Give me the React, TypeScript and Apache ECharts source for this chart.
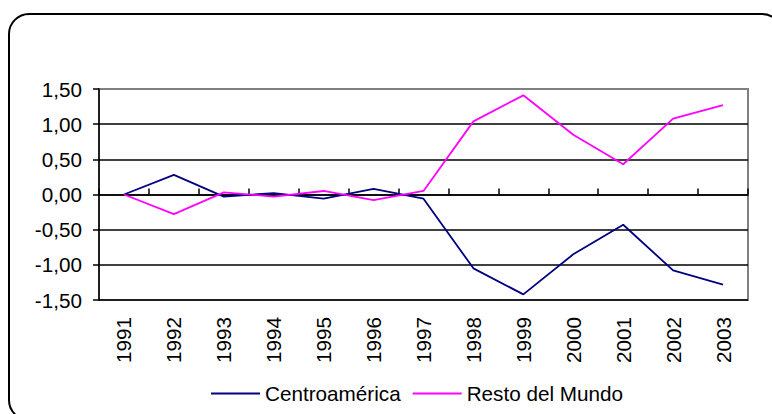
import React, { useEffect, useRef } from "react";
import * as echarts from "echarts";

const years = ["1991", "1992", "1993", "1994", "1995", "1996", "1997", "1998", "1999", "2000", "2001", "2002", "2003"];
const centroamerica = [0, 0.28, -0.03, 0.02, -0.06, 0.08, -0.06, -1.05, -1.42, -0.85, -0.43, -1.08, -1.28];
const restoDelMundo = [0, -0.28, 0.03, -0.03, 0.05, -0.08, 0.05, 1.04, 1.41, 0.85, 0.43, 1.08, 1.27];
const yMin = -1.5;
const yMax = 1.5;
const yStep = 0.5;

const FONT = "'Liberation Sans', Arial, sans-serif";
const FS = 20.7;

export default function App() {
  const ref = useRef<HTMLDivElement>(null);
  useEffect(() => {
    if (!ref.current) return;
    const chart = echarts.init(ref.current, null, { renderer: "svg" });
    chart.setOption({
      animation: false,
      backgroundColor: "#ffffff",
      textStyle: { fontFamily: FONT },
      graphic: [
        {
          type: "rect",
          shape: { x: 9, y: 14, width: 773, height: 406, r: 20 },
          style: { fill: "none", stroke: "#000000", lineWidth: 2 },
          z: 0,
          silent: true,
        },
      ],
      grid: {
        left: 99,
        top: 89,
        right: 24,
        bottom: 114,
        show: true,
        borderColor: "#808080",
        borderWidth: 2,
        backgroundColor: "#ffffff",
        containLabel: false,
      },
      legend: {
        left: 206,
        top: 378,
        icon: "rect",
        itemWidth: 49,
        itemHeight: 2,
        itemGap: 12,
        textStyle: { fontSize: FS, color: "#000000", fontFamily: FONT },
        data: ["Centroamérica", "Resto del Mundo"],
      },
      xAxis: [
        {
          type: "category",
          data: years,
          boundaryGap: true,
          axisLine: { onZero: true, lineStyle: { color: "#000000", width: 1.5 } },
          axisTick: { show: true, inside: true, length: 6, interval: 0, lineStyle: { color: "#000000", width: 1.5 } },
          axisLabel: { show: false },
          splitLine: { show: false },
        },
        {
          type: "category",
          data: years,
          position: "bottom",
          boundaryGap: true,
          axisLine: { show: false, onZero: false },
          axisTick: { show: false },
          axisLabel: {
            show: true,
            rotate: 90,
            margin: 17,
            interval: 0,
            fontSize: FS,
            color: "#000000",
            fontFamily: FONT,
          },
          splitLine: { show: false },
        },
      ],
      yAxis: {
        type: "value",
        min: yMin,
        max: yMax,
        interval: yStep,
        axisLine: { show: true, lineStyle: { color: "#000000", width: 1.5 } },
        axisTick: { show: true, length: 6, lineStyle: { color: "#000000", width: 1.5 } },
        axisLabel: {
          margin: 17,
          fontSize: FS,
          color: "#000000",
          fontFamily: FONT,
          formatter: (v: number) => v.toFixed(2).replace(".", ","),
        },
        splitLine: { show: true, showMaxLine: false, lineStyle: { color: "#000000", width: 1.5 } },
      },
      series: [
        {
          name: "Centroamérica",
          type: "line",
          data: centroamerica,
          xAxisIndex: 0,
          symbol: "none",
          lineStyle: { color: "#000080", width: 1.8 },
          itemStyle: { color: "#000080" },
        },
        {
          name: "Resto del Mundo",
          type: "line",
          data: restoDelMundo,
          xAxisIndex: 0,
          symbol: "none",
          lineStyle: { color: "#FF00FF", width: 1.8 },
          itemStyle: { color: "#FF00FF" },
        },
      ],
    });
    return () => chart.dispose();
  }, []);
  return (
    <div
      ref={ref}
      style={{ position: "absolute", left: 0, top: 0, width: 772, height: 414, background: "#ffffff" }}
    />
  );
}
